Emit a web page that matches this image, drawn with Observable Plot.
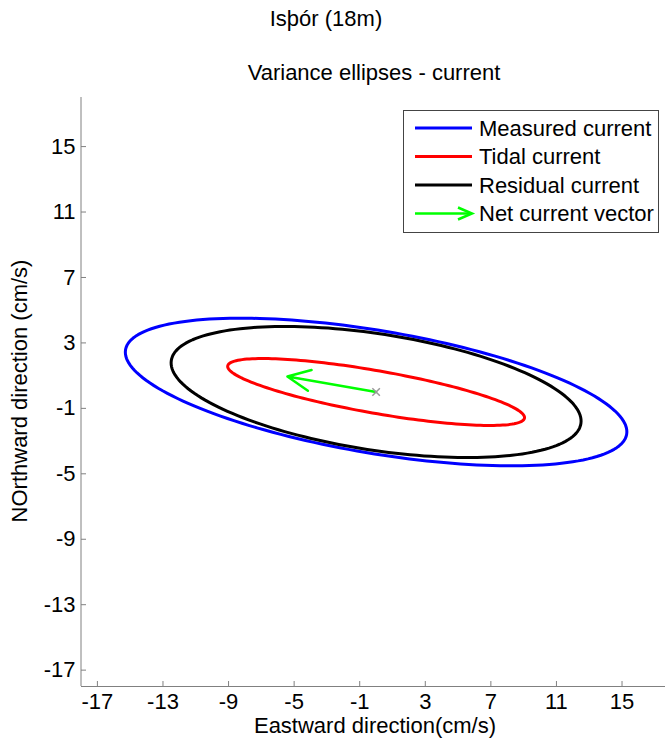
<!DOCTYPE html>
<html><head><meta charset="utf-8">
<script src="https://cdn.jsdelivr.net/npm/d3@7"></script>
<script src="https://cdn.jsdelivr.net/npm/@observablehq/plot@0.6"></script>
<style>
body{margin:0;background:#fff;font-family:"Liberation Sans",Arial,sans-serif;}
#wrap{position:relative;width:665px;height:746px;overflow:hidden;background:#fff;}
.t{position:absolute;white-space:nowrap;color:#000;font-size:22px;line-height:1;transform:translate(-50%,-50%);}
#legend{position:absolute;left:403px;top:110px;width:256px;height:123px;box-sizing:border-box;border:1px solid #444;background:#fff;}
</style></head><body><div id="wrap"></div>
<script>
// ---- data ----
const seriesNames = ["Measured current", "Tidal current", "Residual current"];
const seriesColors = ["#0000ff", "#ff0000", "#000000"];
const centerX = [0, 0, 0];           // cm/s
const centerY = [0, 0, 0];           // cm/s
const semiMajor = [15.5, 9.19, 12.64];
const semiMinor = [3.75, 1.3, 3.55];
const orientationDeg = [-9.6, -10, -8.8];
const netU = [-5.41];                // net current vector (cm/s)
const netV = [0.95];
const xTicks = [-17, -13, -9, -5, -1, 3, 7, 11, 15];
const yTicks = [-17, -13, -9, -5, -1, 3, 7, 11, 15];
const titleText = "Isþór (18m)";
const subtitleText = "Variance ellipses - current";
const xLabel = "Eastward direction(cm/s)";
const yLabel = "NOrthward direction (cm/s)";
const vectorName = "Net current vector";

// ellipse outlines built from the ellipse parameters
const ellipses = seriesNames.map((name, i) => {
  const th = orientationDeg[i] * Math.PI / 180;
  return d3.range(0, 361, 2).map(deg => {
    const t = deg * Math.PI / 180;
    const a = semiMajor[i] * Math.cos(t), b = semiMinor[i] * Math.sin(t);
    return {name, x: centerX[i] + a * Math.cos(th) - b * Math.sin(th),
                  y: centerY[i] + a * Math.sin(th) + b * Math.cos(th)};
  });
});
const vec = [{x1: centerX[0], y1: centerY[0], x2: netU[0], y2: netV[0]}];

const axisGray = "#808080";
const fmt = d => String(d);
const plot = Plot.plot({
  width: 665, height: 746,
  marginLeft: 81, marginRight: 0, marginTop: 97, marginBottom: 60,
  x: {domain: [-18, 18], range: [80.5, 670.7]},
  y: {domain: [-18, 18], range: [686, 97]},
  style: {fontFamily: "'Liberation Sans', Arial, sans-serif", fontSize: "22px", background: "white", overflow: "hidden"},
  marks: [
    Plot.ruleX([-18], {stroke: axisGray}),
    Plot.ruleY([-18], {stroke: axisGray}),
    Plot.axisX(xTicks, {anchor: "bottom", tickSize: -5, color: axisGray, tickFormat: () => "", label: null}),
    Plot.axisY(yTicks, {anchor: "left", tickSize: -5, color: axisGray, tickFormat: () => "", label: null}),
    Plot.axisX(xTicks, {anchor: "bottom", tickSize: 0, tickPadding: 7, fontSize: 22, color: "#000", tickFormat: fmt, label: null}),
    Plot.axisY(yTicks, {anchor: "left", tickSize: 0, tickPadding: 6, fontSize: 22, color: "#000", tickFormat: fmt, label: null}),
    ...[0, 1, 2].map(i => Plot.line(ellipses[i], {x: "x", y: "y", stroke: seriesColors[i], strokeWidth: 3})),
    Plot.arrow(vec, {x1: "x1", y1: "y1", x2: "x2", y2: "y2", stroke: "#00ff00", strokeWidth: 2.5, headLength: 15, headAngle: 50}),
    Plot.dot(vec, {x: "x1", y: "y1", symbol: "times", r: 3.5, stroke: "#999", strokeWidth: 1.5})
  ]
});
const wrap = document.getElementById("wrap");
wrap.appendChild(plot);

function addText(txt, x, y, rot) {
  const d = document.createElement("div");
  d.className = "t"; d.textContent = txt;
  d.style.left = x + "px"; d.style.top = y + "px";
  if (rot) d.style.transform = "translate(-50%,-50%) rotate(-90deg)";
  wrap.appendChild(d);
}
addText(titleText, 326, 19);
addText(subtitleText, 374, 73);
addText(xLabel, 375, 726);
addText(yLabel, 20, 391, true);

// legend
const lg = document.createElement("div");
lg.id = "legend";
const ns = "http://www.w3.org/2000/svg";
const svg = document.createElementNS(ns, "svg");
svg.setAttribute("width", 254); svg.setAttribute("height", 121);
const rows = seriesNames.map((n, i) => ({name: n, color: seriesColors[i], arrow: false}))
  .concat([{name: vectorName, color: "#00ff00", arrow: true}]);
rows.forEach((r, j) => {
  const y = 17 + j * 28.5;
  const ln = document.createElementNS(ns, "line");
  ln.setAttribute("x1", 11); ln.setAttribute("x2", r.arrow ? 66 : 68);
  ln.setAttribute("y1", y); ln.setAttribute("y2", y);
  ln.setAttribute("stroke", r.color); ln.setAttribute("stroke-width", r.arrow ? 2.5 : 3);
  svg.appendChild(ln);
  if (r.arrow) {
    const p = document.createElementNS(ns, "path");
    p.setAttribute("d", `M54,${y - 6} L68,${y} L54,${y + 6}`);
    p.setAttribute("fill", "none"); p.setAttribute("stroke", r.color); p.setAttribute("stroke-width", 2.5);
    svg.appendChild(p);
  }
  const tx = document.createElementNS(ns, "text");
  tx.setAttribute("x", 75); tx.setAttribute("y", y);
  tx.setAttribute("dy", "0.35em");
  tx.setAttribute("font-size", 22);
  tx.setAttribute("font-family", "'Liberation Sans', Arial, sans-serif");
  tx.textContent = r.name;
  svg.appendChild(tx);
});
lg.appendChild(svg);
wrap.appendChild(lg);
</script></body></html>
